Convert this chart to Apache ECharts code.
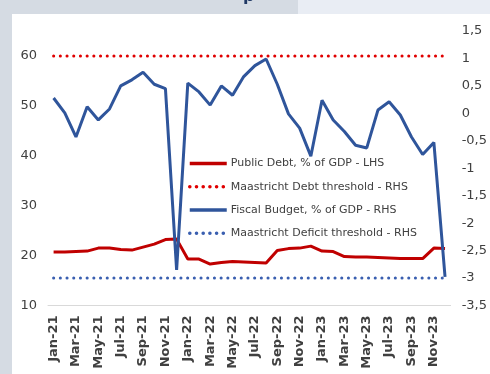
<!DOCTYPE html>
<html>
<head>
<meta charset="utf-8">
<script src="https://cdn.jsdelivr.net/npm/echarts@6/dist/echarts.min.js"></script>
<style>
  html, body { margin: 0; padding: 0; background: #ffffff; }
  #chart { width: 490px; height: 374px; }
</style>
</head>
<body>
<div id="chart"></div>
<script>
// Monthly categories, Jan-21 .. Dec-23
const months = ['Jan','Feb','Mar','Apr','May','Jun','Jul','Aug','Sep','Oct','Nov','Dec'];
const categories = [];
['21','22','23'].forEach(y => months.forEach(m => categories.push(m + '-' + y)));

// Public debt, % of GDP (left axis)
const publicDebt = [
  20.7, 20.7, 20.8, 20.9, 21.5, 21.5, 21.2, 21.1, 21.7, 22.3, 23.2, 23.3,
  19.3, 19.3, 18.3, 18.6, 18.8, 18.7, 18.6, 18.5, 21.0, 21.4, 21.5, 21.9,
  20.9, 20.8, 19.8, 19.7, 19.7, 19.6, 19.5, 19.4, 19.4, 19.4, 21.5, 21.4
];

// Fiscal budget, % of GDP (right axis)
const fiscalBudget = [
  0.28, 0.01, -0.43, 0.12, -0.12, 0.08, 0.50, 0.61, 0.75, 0.53, 0.45, -2.85,
  0.55, 0.39, 0.15, 0.50, 0.33, 0.67, 0.87, 0.99, 0.53, -0.01, -0.27, -0.78,
  0.24, -0.12, -0.33, -0.58, -0.63, 0.06, 0.21, -0.03, -0.43, -0.75, -0.53, -2.98
];

// Maastricht thresholds
const debtThreshold = categories.map(() => 60);
const deficitThreshold = categories.map(() => -3);

const legendNames = [
  'Public Debt, % of GDP - LHS',
  'Maastricht Debt threshold - RHS',
  'Fiscal Budget, % of GDP - RHS',
  'Maastricht Deficit threshold - RHS'
];

const RED = '#c00000';
const BLUE = '#2f559b';
const TEXT = '#404040';
const FONT = 'DejaVu Sans';
const dotted = [0.1, 6.6];

const chart = echarts.init(document.getElementById('chart'), null, { renderer: 'canvas' });

chart.setOption({
  animation: false,
  backgroundColor: '#ffffff',
  textStyle: { fontFamily: FONT },
  graphic: [
    { type: 'rect', left: 0, top: 0, shape: { width: 12, height: 374 }, style: { fill: '#d5dbe3' }, z: -10 },
    { type: 'rect', left: 0, top: 0, shape: { width: 298, height: 14 }, style: { fill: '#d5dbe3' }, z: -10 },
    { type: 'rect', left: 298, top: 0, shape: { width: 192, height: 14 }, style: { fill: '#e9edf4' }, z: -10 },
    // page heading above the panel, clipped by the window edge
    { type: 'text', z: -5, style: { x: 243, y: 5, text: 'p', verticalAlign: 'bottom', fill: '#1f3864', font: 'bold 16px "DejaVu Sans"' } }
  ],
  grid: { left: 48, right: 38, top: 31, bottom: 68.5, containLabel: false },
  legend: {
    orient: 'vertical',
    left: 183,
    top: 153,
    itemWidth: 37,
    itemHeight: 14,
    itemGap: 12,
    data: legendNames,
    itemStyle: { opacity: 0 },
    lineStyle: { width: 3.5 },
    textStyle: { color: TEXT, fontSize: 11, fontFamily: FONT, padding: [0, 0, 0, -1] }
  },
  xAxis: {
    type: 'category',
    data: categories,
    boundaryGap: true,
    axisLine: { show: true, onZero: false, lineStyle: { color: '#d9d9d9', width: 1 } },
    axisTick: { show: false },
    axisLabel: {
      interval: 1,
      rotate: 90,
      margin: 10,
      color: TEXT,
      fontSize: 13,
      fontWeight: 'bold',
      fontFamily: FONT
    },
    splitLine: { show: false }
  },
  yAxis: [
    {
      type: 'value',
      min: 10,
      max: 65,
      interval: 10,
      position: 'left',
      axisLine: { show: false },
      axisTick: { show: false },
      splitLine: { show: false },
      axisLabel: {
        color: TEXT, fontSize: 13, fontFamily: FONT, margin: 11,
        formatter: v => (v > 60 ? '' : String(v))
      }
    },
    {
      type: 'value',
      min: -3.5,
      max: 1.5,
      interval: 0.5,
      position: 'right',
      axisLine: { show: false },
      axisTick: { show: false },
      splitLine: { show: false },
      axisLabel: {
        color: TEXT, fontSize: 13, fontFamily: FONT, margin: 11,
        formatter: v => String(Math.round(v * 10) / 10).replace('.', ',')
      }
    }
  ],
  series: [
    {
      name: legendNames[0],
      type: 'line',
      yAxisIndex: 0,
      data: publicDebt,
      symbol: 'none',
      lineStyle: { color: RED, width: 3 },
      itemStyle: { color: RED },
      z: 3
    },
    {
      name: legendNames[1],
      type: 'line',
      yAxisIndex: 0,
      data: debtThreshold,
      symbol: 'none',
      lineStyle: { color: '#e00000', width: 3, type: dotted, cap: 'round' },
      itemStyle: { color: '#e00000' },
      z: 2
    },
    {
      name: legendNames[2],
      type: 'line',
      yAxisIndex: 1,
      data: fiscalBudget,
      symbol: 'none',
      lineStyle: { color: BLUE, width: 3 },
      itemStyle: { color: BLUE },
      z: 4
    },
    {
      name: legendNames[3],
      type: 'line',
      yAxisIndex: 1,
      data: deficitThreshold,
      symbol: 'none',
      lineStyle: { color: '#3a5fb0', width: 3, type: dotted, cap: 'round' },
      itemStyle: { color: '#3a5fb0' },
      z: 2
    }
  ]
});
</script>
</body>
</html>
